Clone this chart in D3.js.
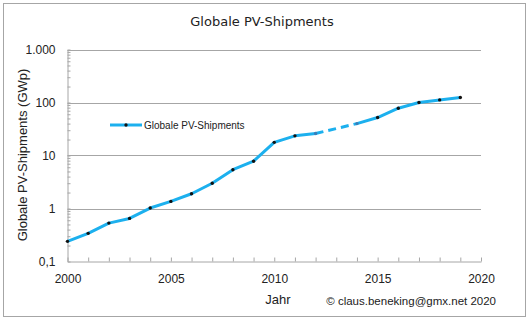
<!DOCTYPE html>
<html>
<head>
<meta charset="utf-8">
<script src="https://cdn.jsdelivr.net/npm/d3@7"></script>
<style>
  body { margin: 0; background: #fff; }
  svg { display: block; font-family: 'Liberation Sans', Arial, sans-serif; }
  .grid line { stroke: #a6a6a6; }
  .axis path, .axis line { stroke: #a6a6a6; }
  .axis text { font-size: 12px; fill: #222; }
</style>
</head>
<body>
<svg width="529" height="321"></svg>
<script>
const years = [2000, 2001, 2002, 2003, 2004, 2005, 2006, 2007, 2008, 2009,
  2010, 2011, 2012, 2013, 2014, 2015, 2016, 2017, 2018, 2019];
// GWp, 2013 not available (dashed bridge)
const shipments = [0.24, 0.34, 0.53, 0.65, 1.02, 1.36, 1.9, 3.0, 5.4, 7.8,
  17.7, 23.5, 26, null, 40, 52, 78, 100, 112, 124];
const yMajor = [0.1, 1, 10, 100, 1000];
const yLabels = ['0,1', '1', '10', '100', '1.000'];
const xLabelYears = [2000, 2005, 2010, 2015, 2020];

const svg = d3.select('svg');
const blue = '#1cb0ee';

svg.append('rect')
  .attr('x', 3.5).attr('y', 3.5)
  .attr('width', 522).attr('height', 313)
  .attr('fill', 'none')
  .attr('stroke', '#a6a6a6');

const x = d3.scaleLinear().domain([2000, 2020]).range([67.5, 481]);
const y = d3.scaleLog().domain([0.1, 1000]).range([261.5, 49.5]);

// horizontal grid lines
svg.append('g')
  .attr('class', 'grid')
  .selectAll('line')
  .data(yMajor.slice(1))
  .join('line')
  .attr('x1', x(2000)).attr('x2', x(2020))
  .attr('y1', d => Math.round(y(d)) + 0.5)
  .attr('y2', d => Math.round(y(d)) + 0.5);

// y axis with minor log ticks
const yTicks = [];
yMajor.slice(0, -1).forEach(m => { for (let k = 1; k < 10; k++) yTicks.push(m * k); });
yTicks.push(1000);

svg.append('g')
  .attr('class', 'axis')
  .attr('transform', `translate(${x(2000)},0)`)
  .call(d3.axisLeft(y)
    .tickValues(yTicks)
    .tickSize(-3)
    .tickSizeOuter(0)
    .tickPadding(12)
    .tickFormat(d => {
      const i = yMajor.findIndex(m => Math.abs(m - d) < 1e-9);
      return i >= 0 ? yLabels[i] : '';
    }));

svg.append('g')
  .attr('class', 'axis')
  .attr('transform', `translate(0,${y(0.1)})`)
  .call(d3.axisBottom(x)
    .tickValues(d3.range(2000, 2021))
    .tickSize(-4)
    .tickSizeOuter(0)
    .tickPadding(13)
    .tickFormat(d => xLabelYears.includes(d) ? d : ''));

// series
const pts = years.map((yr, i) => ({ yr, v: shipments[i] }));
const line = d3.line().x(d => x(d.yr)).y(d => y(d.v));

const segments = [];
let cur = [];
pts.forEach(p => {
  if (p.v == null) { if (cur.length) segments.push(cur); cur = []; }
  else cur.push(p);
});
if (cur.length) segments.push(cur);

// dashed bridge across gaps
for (let i = 0; i < segments.length - 1; i++) {
  const a = segments[i][segments[i].length - 1];
  const b = segments[i + 1][0];
  svg.append('path')
    .attr('d', line([a, b]))
    .attr('fill', 'none')
    .attr('stroke', blue)
    .attr('stroke-width', 3)
    .attr('stroke-dasharray', '8,5');
}

segments.forEach(seg => {
  svg.append('path')
    .attr('d', line(seg))
    .attr('fill', 'none')
    .attr('stroke', blue)
    .attr('stroke-width', 3)
    .attr('stroke-linejoin', 'round');
});

const gapEdge = new Set();
segments.forEach((seg, i) => {
  if (i > 0) gapEdge.add(seg[0].yr);
  if (i < segments.length - 1) gapEdge.add(seg[seg.length - 1].yr);
});

svg.append('g')
  .selectAll('circle')
  .data(pts.filter(p => p.v != null))
  .join('circle')
  .attr('cx', d => x(d.yr))
  .attr('cy', d => y(d.v))
  .attr('r', 1.7)
  .attr('fill', d => gapEdge.has(d.yr) ? '#3a7fb8' : '#111');

// legend
const lg = svg.append('g').attr('transform', 'translate(110,125)');
lg.append('line')
  .attr('x1', 0).attr('x2', 32)
  .attr('stroke', blue).attr('stroke-width', 3);
lg.append('circle').attr('cx', 16).attr('r', 1.7).attr('fill', '#111');
lg.append('text')
  .attr('x', 34).attr('y', 3.5)
  .attr('font-size', 10)
  .attr('fill', '#222')
  .text('Globale PV-Shipments');

// titles
svg.append('text')
  .attr('x', 262).attr('y', 26)
  .attr('text-anchor', 'middle')
  .attr('font-family', 'DejaVu Sans, Verdana, sans-serif')
  .attr('font-size', 13)
  .attr('fill', '#222')
  .text('Globale PV-Shipments');

svg.append('text')
  .attr('transform', 'translate(27,155) rotate(-90)')
  .attr('text-anchor', 'middle')
  .attr('font-size', 13)
  .attr('fill', '#222')
  .text('Globale PV-Shipments (GWp)');

svg.append('text')
  .attr('x', 278).attr('y', 304)
  .attr('text-anchor', 'middle')
  .attr('font-size', 13)
  .attr('fill', '#222')
  .text('Jahr');

svg.append('text')
  .attr('x', 496).attr('y', 305)
  .attr('text-anchor', 'end')
  .attr('font-size', 11.5)
  .attr('fill', '#222')
  .text('© claus.beneking@gmx.net 2020');
</script>
</body>
</html>
